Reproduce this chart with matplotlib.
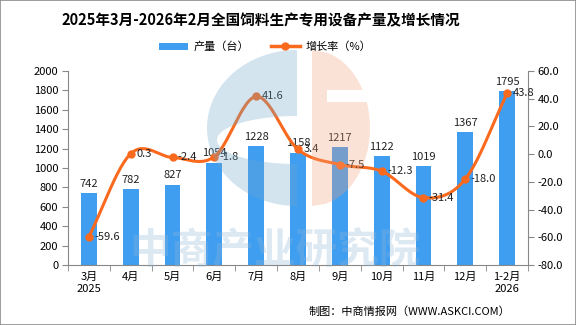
import numpy as np
import matplotlib.pyplot as plt
from matplotlib.patches import Rectangle, Polygon
from matplotlib.lines import Line2D

plt.rcParams['font.family'] = ['Noto Sans CJK SC', 'DejaVu Sans']

months = ['3月\n2025', '4月', '5月', '6月', '7月', '8月', '9月', '10月', '11月', '12月', '1-2月\n2026']
output = [742, 782, 827, 1054, 1228, 1158, 1217, 1122, 1019, 1367, 1795]
growth = [-59.6, 0.3, -2.4, -1.8, 41.6, 3.4, -7.5, -12.3, -31.4, -18.0, 43.8]

bar_c = '#3f9ef0'
line_c = '#fa6a1e'


def smooth(x, y, n=30):
    # Catmull-Rom curve through the points
    x = np.asarray(x, float)
    y = np.asarray(y, float)
    px = np.concatenate([[2 * x[0] - x[1]], x, [2 * x[-1] - x[-2]]])
    py = np.concatenate([[2 * y[0] - y[1]], y, [2 * y[-1] - y[-2]]])
    xs, ys = [], []
    t = np.linspace(0, 1, n)
    for i in range(1, len(px) - 2):
        for p, out in ((px, xs), (py, ys)):
            p0, p1, p2, p3 = p[i - 1], p[i], p[i + 1], p[i + 2]
            out.extend(0.5 * (2 * p1 + (-p0 + p2) * t
                              + (2 * p0 - 5 * p1 + 4 * p2 - p3) * t ** 2
                              + (-p0 + 3 * p1 - 3 * p2 + p3) * t ** 3))
    return xs, ys


def left_half_ellipse(cx, cy, a, b, n=60):
    th = np.linspace(-np.pi / 2, np.pi / 2, n)
    return np.column_stack([cx - a * np.cos(th), cy + b * np.sin(th)])


fig = plt.figure(figsize=(5.76, 3.25), dpi=100)
fig.patch.set_facecolor('white')
fig.patches.append(Rectangle((0, 0), 1, 1, transform=fig.transFigure, fill=False,
                             ec='#8c8c8c', lw=1.2))

ax = fig.add_axes([68 / 576, 60 / 325, 460 / 576, 194 / 325])
x = np.arange(len(months))
ax.bar(x, output, width=0.38, color=bar_c, zorder=2)
for xi, v in zip(x, output):
    ax.text(xi, v + 45, str(v), ha='center', va='bottom', fontsize=8, color='#222222')
ax.set_xlim(-0.5, len(months) - 0.5)
ax.set_ylim(0, 2000)
ax.set_yticks(range(0, 2001, 200))
ax.set_xticks(x)
ax.set_xticklabels(months, fontsize=8, linespacing=1.3)
ax.set_xticks(np.arange(-0.5, len(months)), minor=True)
ax.tick_params(axis='x', which='major', length=0, pad=5)
ax.tick_params(axis='x', which='minor', length=4, color='#888888')
ax.tick_params(axis='y', labelsize=8, length=4, color='#888888', pad=3)
for s in ['top', 'right']:
    ax.spines[s].set_visible(False)
ax.spines['left'].set_color('#888888')
ax.spines['bottom'].set_color('#888888')
ax.set_facecolor('none')

ax2 = ax.twinx()
sx, sy = smooth(x, growth)
ax2.plot(sx, sy, color=line_c, lw=2.2, zorder=3)
ax2.plot(x, growth, 'o', color=line_c, ms=5, zorder=4)
for xi, v in zip(x, growth):
    ax2.text(xi + 0.13, v, f'{v:.1f}', ha='left', va='center', fontsize=8, color='#222222')
ax2.set_ylim(-80, 60)
ax2.set_yticks(range(-80, 61, 20))
ax2.set_yticklabels([f'{t:.1f}' for t in range(-80, 61, 20)])
ax2.tick_params(axis='y', labelsize=8, length=4, color='#888888', pad=3)
for s in ['top', 'left', 'bottom']:
    ax2.spines[s].set_visible(False)
ax2.spines['right'].set_color('#888888')

# watermark layer in pixel coordinates (y down)
wm = fig.add_axes([0, 0, 1, 1], zorder=10)
wm.set_xlim(0, 576)
wm.set_ylim(325, 0)
wm.axis('off')

# blue "C": outer half ellipse with a flat inner half ellipse cut out
c_pts = np.vstack([left_half_ellipse(297, 128, 90, 78)[::-1],
                   left_half_ellipse(297, 140, 80, 24)])
wm.add_patch(Polygon(c_pts, closed=True, fc='#6fa6cc', alpha=0.3, lw=0))

# orange half disc with a notch
cx, cy, a, b = 312, 128, 58, 78


def ex(yv):
    return cx + a * np.sqrt(max(0.0, 1 - ((yv - cy) / b) ** 2))


top_arc = [(ex(yv), yv) for yv in np.linspace(cy - b, 90, 15)]
bot_arc = [(ex(yv), yv) for yv in np.linspace(102, cy + b, 50)]
orange = [(cx, cy - b)] + top_arc + [(327, 90), (327, 102)] + bot_arc + [(cx, cy + b)]
wm.add_patch(Polygon(orange, closed=True, fc='#f4a17c', alpha=0.3, lw=0))

wm.text(275, 252, '中商产业研究院', ha='center', va='center', fontsize=30,
        fontweight='bold', color='#8fb8d6', alpha=0.3)

fig.text(261 / 576, 1 - 20 / 325, '2025年3月-2026年2月全国饲料生产专用设备产量及增长情况',
         ha='center', va='center', fontsize=10.5, fontweight='bold')

handles = [Rectangle((0, 0), 1, 1, fc=bar_c),
           Line2D([], [], color=line_c, lw=2.5, marker='o', ms=5)]
fig.legend(handles, ['产量（台）', '增长率（%）'], loc='center', bbox_to_anchor=(265 / 576, 1 - 47 / 325),
           ncol=2, frameon=False, fontsize=8, handlelength=2.6, columnspacing=2.0,
           handletextpad=0.5)

fig.text(510 / 576, 1 - 312 / 325, '制图：中商情报网（WWW.ASKCI.COM）', ha='right', va='center',
         fontsize=8)

fig.savefig('out.png', dpi=100)
